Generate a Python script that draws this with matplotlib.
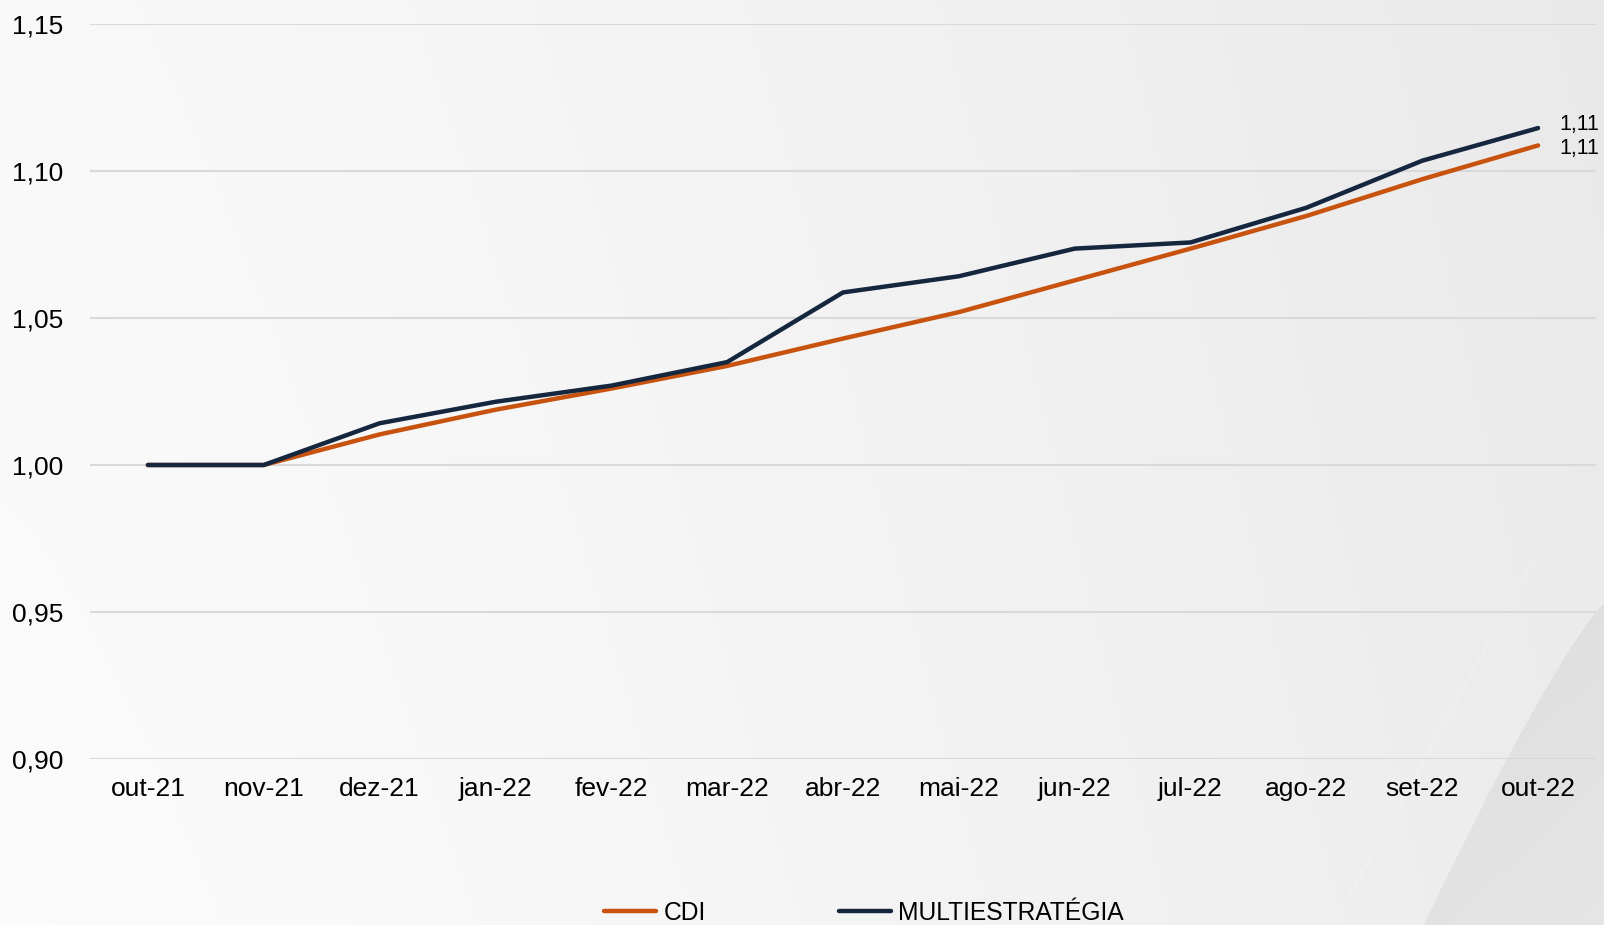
import matplotlib
matplotlib.use("Agg")
import matplotlib.pyplot as plt
from matplotlib.ticker import FuncFormatter
import numpy as np

plt.rcParams["font.family"] = ["Liberation Sans", "DejaVu Sans"]

months = ["out-21", "nov-21", "dez-21", "jan-22", "fev-22", "mar-22", "abr-22",
          "mai-22", "jun-22", "jul-22", "ago-22", "set-22", "out-22"]
cdi = [1.000, 1.000, 1.0104, 1.0188, 1.0260, 1.0337, 1.0430,
       1.0520, 1.0628, 1.0736, 1.0847, 1.0972, 1.1087]
multi = [1.000, 1.000, 1.0142, 1.0215, 1.0270, 1.0350, 1.0587,
         1.0642, 1.0736, 1.0757, 1.0875, 1.1035, 1.1146]

c_cdi = "#C8530F"
c_multi = "#15273F"

W, H = 1604, 925
fig = plt.figure(figsize=(W / 100, H / 100), dpi=100)

# background: soft grey gradient with a darker swoosh bottom right
bg = fig.add_axes([0, 0, 1, 1], zorder=-10)
xx, yy = np.meshgrid(np.arange(W), np.arange(H))
shade = 0.985 - 0.06 * (xx / W) ** 1.3 - 0.01 * (1 - yy / H)
curve_x = 1604 - 181 * ((yy - 603) / 322.0) ** 0.85
dark = (yy > 603) & (xx > np.where(yy > 603, curve_x, W))
shade = np.where(dark, shade - 0.045 + 0.02 * (xx - curve_x) / 180.0, shade)
band_x = 1533 - 183 * ((yy - 560) / 333.0)
band = (yy > 560) & (np.abs(xx - band_x) < 1.2) & ~dark
shade = np.where(band, shade + 0.01, shade)
bg.imshow(np.dstack([shade, shade, shade * 1.003]).clip(0, 1), aspect="auto")
bg.axis("off")

ax = fig.add_axes([90 / W, 1 - 759 / H, (1596 - 90) / W, (759 - 24) / H])
ax.patch.set_alpha(0)
x = np.arange(len(months))
ax.plot(x, cdi, color=c_cdi, lw=3.2, label="CDI", solid_capstyle="round", zorder=3)
ax.plot(x, multi, color=c_multi, lw=3.2, label="MULTIESTRATÉGIA",
        solid_capstyle="round", zorder=4)

ax.set_xlim(-0.5, len(months) - 0.5)
ax.set_ylim(0.90, 1.15)
ax.set_yticks(np.arange(0.90, 1.151, 0.05))
ax.yaxis.set_major_formatter(FuncFormatter(lambda v, p: f"{v:.2f}".replace(".", ",")))
ax.set_xticks(x)
ax.set_xticklabels(months)
ax.tick_params(axis="both", length=0, labelsize=19, colors="black")
ax.tick_params(axis="y", pad=19.5)
ax.tick_params(axis="x", pad=13)
ax.grid(axis="y", color="#d9d9d9", lw=1.5)
ax.set_axisbelow(True)
for s in ax.spines.values():
    s.set_visible(False)

# end labels, nudged apart a little so they don't collide
ax.annotate(f"{multi[-1]:.2f}".replace(".", ","), (x[-1], multi[-1]),
            xytext=(15, 2.5), textcoords="offset points", va="center",
            fontsize=15.5, annotation_clip=False)
ax.annotate(f"{cdi[-1]:.2f}".replace(".", ","), (x[-1], cdi[-1]),
            xytext=(15, -2.5), textcoords="offset points", va="center",
            fontsize=15.5, annotation_clip=False)

fig.legend(loc="center", bbox_to_anchor=(0.5387, 0.013), ncol=2, frameon=False,
           fontsize=17.7, handlelength=2.12, handletextpad=0.3, columnspacing=5.4)

fig.savefig("out.png", dpi=100)
